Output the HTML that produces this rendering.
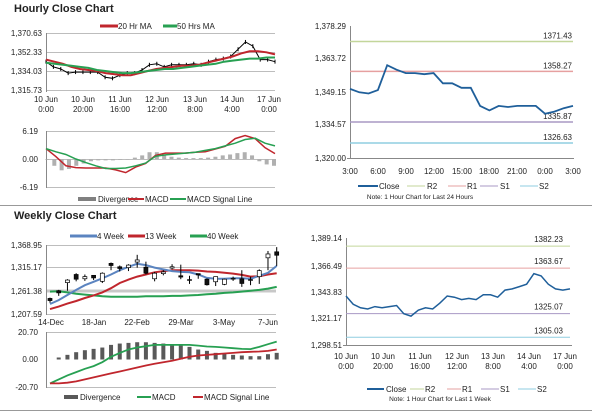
<!DOCTYPE html>
<html><head><meta charset="utf-8"><style>
html,body{margin:0;padding:0;background:#fff;}
svg{display:block;font-family:"Liberation Sans",sans-serif;}
.t{font-size:8px;fill:#222;}
.ttl{font-size:11px;font-weight:bold;fill:#222;}
.g{stroke:#bdbdbd;stroke-width:1;}
.ax{stroke:#888;stroke-width:1;}
</style></head><body>
<svg id="root" width="600" height="413" viewBox="0 0 600 413" xmlns="http://www.w3.org/2000/svg">
<text x="14" y="12" class="ttl">Hourly Close Chart</text>
<text x="14" y="219" class="ttl">Weekly Close Chart</text>
<line x1="0" y1="205.5" x2="592" y2="205.5" stroke="#999"/>
<line x1="0" y1="410.5" x2="592" y2="410.5" stroke="#999"/>

<!-- hourly price panel -->
<g>
<g>
<line x1="100" y1="26" x2="118" y2="26" stroke="#c0262d" stroke-width="3"/><text x="118" y="29" class="t">20 Hr MA</text>
<line x1="163" y1="26" x2="177" y2="26" stroke="#27a052" stroke-width="3"/><text x="177" y="29" class="t">50 Hrs MA</text>
</g>
<line x1="46" y1="33.5" x2="275" y2="33.5" class="g"/><line x1="46" y1="52.5" x2="275" y2="52.5" class="g"/>
<line x1="46" y1="71.5" x2="275" y2="71.5" class="g"/><line x1="46" y1="90.5" x2="275" y2="90.5" class="g"/>
<line x1="46.5" y1="33" x2="46.5" y2="92" class="ax"/>
<g class="t" text-anchor="end">
<text x="42" y="36">1,370.63</text><text x="42" y="55">1,352.33</text><text x="42" y="74">1,334.03</text><text x="42" y="93">1,315.73</text></g>
<g class="t" text-anchor="middle">
<text x="46" y="102">10 Jun</text><text x="46" y="112">0:00</text>
<text x="83" y="102">10 Jun</text><text x="83" y="112">20:00</text>
<text x="120" y="102">11 Jun</text><text x="120" y="112">16:00</text>
<text x="157" y="102">12 Jun</text><text x="157" y="112">12:00</text>
<text x="195" y="102">13 Jun</text><text x="195" y="112">8:00</text>
<text x="232" y="102">14 Jun</text><text x="232" y="112">4:00</text>
<text x="269" y="102">17 Jun</text><text x="269" y="112">0:00</text></g>
</g>
<!-- hourly macd -->
<g>
<line x1="46" y1="131.5" x2="275" y2="131.5" class="g"/><line x1="46" y1="159.5" x2="275" y2="159.5" class="g"/><line x1="46" y1="187.5" x2="275" y2="187.5" class="g"/>
<line x1="46.5" y1="131" x2="46.5" y2="188" class="ax"/>
<g class="t" text-anchor="end"><text x="38" y="134">6.19</text><text x="38" y="162">0.00</text><text x="38" y="190">-6.19</text></g>
<g>
<rect x="78" y="197" width="18" height="4" fill="#808080"/><text x="98" y="202" class="t">Divergence</text>
<line x1="128" y1="199" x2="144" y2="199" stroke="#c0262d" stroke-width="2"/><text x="145" y="202" class="t">MACD</text>
<line x1="170" y1="199" x2="186" y2="199" stroke="#27a052" stroke-width="2"/><text x="187" y="202" class="t">MACD Signal Line</text>
</g></g>

<!-- right top -->
<g>
<line x1="350.5" y1="26" x2="350.5" y2="158" class="ax"/><line x1="347" y1="158.5" x2="574" y2="158.5" class="ax"/>
<g class="t" text-anchor="end"><text x="346" y="29">1,378.29</text><text x="346" y="61">1,363.72</text><text x="346" y="95">1,349.15</text><text x="346" y="127">1,334.57</text><text x="346" y="161">1,320.00</text></g>
<g class="t" text-anchor="middle"><text x="350" y="174">3:00</text><text x="378" y="174">6:00</text><text x="406" y="174">9:00</text><text x="434" y="174">12:00</text><text x="462" y="174">15:00</text><text x="489" y="174">18:00</text><text x="517" y="174">21:00</text><text x="545" y="174">0:00</text><text x="573" y="174">3:00</text></g>
<g>
<line x1="358" y1="186" x2="378" y2="186" stroke="#1f5f9a" stroke-width="2"/><text x="379" y="189" class="t">Close</text>
<line x1="407" y1="186" x2="425" y2="186" stroke="#c3d69b"/><text x="427" y="189" class="t">R2</text>
<line x1="448" y1="186" x2="466" y2="186" stroke="#e6a0a0"/><text x="467" y="189" class="t">R1</text>
<line x1="480" y1="186" x2="498" y2="186" stroke="#a898c4"/><text x="500" y="189" class="t">S1</text>
<line x1="520" y1="186" x2="538" y2="186" stroke="#8fcde0"/><text x="539" y="189" class="t">S2</text>
</g>
<text x="420" y="199" class="t" font-size="6.5" style="font-size:6.5px" text-anchor="middle">Note: 1 Hour Chart for Last 24 Hours</text>
</g>

<!-- right bottom -->
<g>
<line x1="346.5" y1="238" x2="346.5" y2="345" class="ax"/><line x1="343" y1="345.5" x2="572" y2="345.5" class="ax"/>
<g class="t" text-anchor="end"><text x="342" y="241">1,389.14</text><text x="342" y="269">1,366.49</text><text x="342" y="295">1,343.83</text><text x="342" y="321">1,321.17</text><text x="342" y="348">1,298.51</text></g>
<g class="t" text-anchor="middle">
<text x="346" y="359">10 Jun</text><text x="346" y="369">0:00</text>
<text x="383" y="359">10 Jun</text><text x="383" y="369">20:00</text>
<text x="420" y="359">11 Jun</text><text x="420" y="369">16:00</text>
<text x="457" y="359">12 Jun</text><text x="457" y="369">12:00</text>
<text x="493" y="359">13 Jun</text><text x="493" y="369">8:00</text>
<text x="529" y="359">14 Jun</text><text x="529" y="369">4:00</text>
<text x="565" y="359">17 Jun</text><text x="565" y="369">0:00</text></g>
<g>
<line x1="367" y1="389" x2="384" y2="389" stroke="#1f5f9a" stroke-width="2"/><text x="386" y="392" class="t">Close</text>
<line x1="410" y1="389" x2="424" y2="389" stroke="#c3d69b"/><text x="425" y="392" class="t">R2</text>
<line x1="447" y1="389" x2="461" y2="389" stroke="#e6a0a0"/><text x="462" y="392" class="t">R1</text>
<line x1="481" y1="389" x2="499" y2="389" stroke="#a898c4"/><text x="500" y="392" class="t">S1</text>
<line x1="518" y1="389" x2="536" y2="389" stroke="#8fcde0"/><text x="537" y="392" class="t">S2</text>
</g>
<text x="440" y="401" style="font-size:6.5px" class="t" text-anchor="middle">Note: 1 Hour Chart for Last 1 Week</text>
</g>

<!-- weekly price -->
<g>
<g>
<line x1="70" y1="236" x2="97" y2="236" stroke="#5b84c0" stroke-width="3"/><text x="97" y="239" class="t">4 Week</text>
<line x1="128" y1="236" x2="145" y2="236" stroke="#c0262d" stroke-width="3"/><text x="145" y="239" class="t">13 Week</text>
<line x1="190" y1="236" x2="207" y2="236" stroke="#27a052" stroke-width="3"/><text x="207" y="239" class="t">40 Week</text>
</g>
<line x1="46" y1="245.5" x2="276" y2="245.5" class="g"/><line x1="46" y1="267.5" x2="276" y2="267.5" class="g"/>
<line x1="46" y1="291" x2="276" y2="291" stroke="#c8c8c8" stroke-width="3"/><line x1="46" y1="314.5" x2="276" y2="314.5" class="g"/>
<line x1="46.5" y1="245" x2="46.5" y2="315" class="ax"/>
<g class="t" text-anchor="end"><text x="42" y="248">1,368.95</text><text x="42" y="270">1,315.17</text><text x="42" y="294">1,261.38</text><text x="42" y="317">1,207.59</text></g>
<g class="t" text-anchor="middle"><text x="51" y="325">14-Dec</text><text x="94" y="325">18-Jan</text><text x="137" y="325">22-Feb</text><text x="181" y="325">29-Mar</text><text x="224" y="325">3-May</text><text x="268" y="325">7-Jun</text></g>
</g>
<!-- weekly macd -->
<g>
<line x1="46" y1="332.5" x2="276" y2="332.5" class="g"/><line x1="46" y1="387.5" x2="276" y2="387.5" class="g"/>
<line x1="46.5" y1="332" x2="46.5" y2="388" class="ax"/>
<g class="t" text-anchor="end"><text x="38" y="335">20.70</text><text x="38" y="362">0.00</text><text x="38" y="390">-20.70</text></g>
<g>
<rect x="64" y="395" width="14" height="4" fill="#595959"/><text x="80" y="400" class="t">Divergence</text>
<line x1="137" y1="397" x2="151" y2="397" stroke="#27a052" stroke-width="2"/><text x="152" y="400" class="t">MACD</text>
<line x1="193" y1="397" x2="203" y2="397" stroke="#c0262d" stroke-width="2"/><text x="204" y="400" class="t">MACD Signal Line</text>
</g></g>
</svg>
<script>
// ---- hourly (1 week) top-left ----
const hClose=[1343,1338,1336,1332,1333,1333,1333,1333,1328,1327,1330,1332,1332,1335,1340,1341,1338,1340,1340,1340,1341,1340,1343,1345,1346,1348,1355,1362,1358,1345,1345,1343];
const hMa20=[1345,1343,1341,1338,1336,1335,1334,1332,1331,1330,1330,1332,1334,1336,1337,1338,1339,1339,1340,1342,1344,1346,1348,1351,1353,1353,1352,1350];
const hMa50=[1342,1341,1340,1339,1338,1337,1335,1334,1333,1332,1332,1333,1334,1335,1336,1336,1337,1338,1339,1340,1341,1343,1344,1345,1346,1346,1347,1347];
const hMacd=[2.3,0.5,-1.5,-1.9,-2.0,-2.0,-2.0,-2.4,-3.0,-1.8,-1.0,0.8,1.3,1.3,1.3,1.5,1.6,2.2,2.8,4.5,5.2,4.5,2.5,1.2];
const hSignal=[2.3,1.6,1.0,0.0,-0.8,-1.5,-2.1,-2.1,-2.0,-1.5,-0.9,0.6,0.9,1.1,1.3,1.5,1.9,2.3,2.9,3.5,4.3,4.6,3.5,2.9];
const hDiv=[0,-1.5,-2.5,-2.2,-1.5,-1,-0.5,-0.3,-0.3,-0.3,-0.2,0,0.3,0.8,1.5,1.5,1,0.5,0.3,0.2,0.2,0.2,0.3,0.5,0.8,1,1.3,1.5,0.8,-0.5,-1.2,-1.5];
// ---- last 24 hours ----
const dClose=[1350.5,1349,1348.5,1350,1361,1359,1357.5,1357.5,1357,1357.5,1353,1353,1351,1351,1343,1341,1343,1342.5,1343,1343,1343,1339.5,1340.5,1342,1343];
const dLevelNames=['R2','R1','S1','S2'];
const dLevels=[1371.43,1358.27,1335.87,1326.63];
// ---- hourly last week (bottom right) ----
const wkClose=[1340,1333,1330,1329,1331,1330,1331,1332,1325,1323,1328,1330,1329,1334,1340,1339,1337,1338,1337,1341,1341,1339,1345,1346,1348,1350,1359,1357,1350,1346,1345,1346];
const wkLevels=[1382.23,1363.67,1325.07,1305.03];
// ---- weekly candles ----
const wOpen =[1244,1262,1281,1300,1290,1298,1284,1326,1318,1316,1329,1317,1290,1302,1315,1297,1288,1302,1289,1283,1277,1290,1290,1287,1295,1339,1353];
const wClose=[1239,1257,1287,1289,1295,1292,1303,1321,1314,1322,1334,1303,1303,1306,1318,1294,1288,1299,1276,1295,1289,1291,1279,1288,1309,1348,1345];
const wHigh =[1246,1264,1289,1303,1300,1298,1305,1328,1321,1324,1346,1330,1306,1310,1324,1323,1297,1302,1291,1295,1290,1295,1310,1295,1312,1355,1364];
const wLow  =[1234,1250,1262,1284,1285,1287,1280,1310,1307,1308,1316,1300,1284,1298,1312,1289,1278,1290,1274,1273,1275,1285,1271,1275,1278,1310,1320];
const wMa4=[1231,1240,1252,1264,1275,1283,1291,1300,1310,1318,1325,1322,1316,1312,1308,1306,1305,1300,1292,1290,1290,1291,1291,1290,1297,1304,1320];
const wMa13=[1219,1225,1232,1238,1245,1251,1258,1268,1280,1288,1295,1300,1305,1308,1310,1310,1310,1309,1307,1306,1304,1302,1299,1295,1296,1300,1303];
const wMa40=[1260,1261,1258,1255,1253,1251,1249,1248,1248,1248,1248,1249,1249,1249,1250,1250,1251,1252,1254,1255,1257,1258,1260,1262,1264,1267,1271];
const wMacd=[-18,-15,-12,-9.5,-7,-5,-2,2,5,7.5,9,10,11,11,11,11,11,10.5,9.8,9.5,9,8.5,8,7.8,9.5,11.5,13.5];
const wSignal=[-18,-18,-17.5,-16.5,-15,-13.5,-12,-10.5,-9,-7.5,-6,-4.5,-3.2,-2,-1,0.5,2,3,3.5,4,4.5,5,5.5,5.8,6,6.5,7.5];
const wDiv=[0,1.5,3.5,5.5,7,8,9,11,12,12.5,13,13,12.5,12,11.5,11,9.5,7.5,6.5,5,4.5,3.5,3,2.5,2.5,4,5];

const NS='http://www.w3.org/2000/svg';
const root=document.getElementById('root');
function mk(tag,attrs){const e=document.createElementNS(NS,tag);for(const k in attrs)e.setAttribute(k,attrs[k]);root.appendChild(e);return e;}
function xs(x0,x1,n){return i=>x0+i*(x1-x0)/(n-1);}
function ys(y0,v0,y1,v1){return v=>y0+(v-v0)*(y1-y0)/(v1-v0);}
function pts(arr,X,Y){return arr.map((v,i)=>X(i).toFixed(1)+','+Y(v).toFixed(1)).join(' ');}

// top-left scales
const hpY=ys(33,1370.63,90,1315.73);
const hmY=ys(131,6.19,187,-6.19);
const hxC=xs(46,275,hClose.length);
for(let i=0;i<hClose.length;i++){
  const b=mk('line',{x1:hxC(i),x2:hxC(i),y1:hpY(hClose[i])-2,y2:hpY(hClose[i])+2,stroke:'#000','stroke-width':1});
  
  
}
const hcl=mk('polyline',{points:pts(hClose,hxC,hpY),fill:'none',stroke:'#000','stroke-width':1});


const h20=mk('polyline',{points:pts(hMa20,xs(46,275,hMa20.length),hpY),fill:'none',stroke:'#c0262d','stroke-width':2});


const h50=mk('polyline',{points:pts(hMa50,xs(46,275,hMa50.length),hpY),fill:'none',stroke:'#27a052','stroke-width':2});


const hxD=xs(47,274,hDiv.length);
for(let i=0;i<hDiv.length;i++){
  const y0=hmY(0),y1=hmY(hDiv[i]);
  const r=mk('rect',{x:hxD(i)-2,y:Math.min(y0,y1),width:4,height:Math.max(0.5,Math.abs(y1-y0)),fill:'#b0b0b0'});
  
  
}
const hm=mk('polyline',{points:pts(hMacd,xs(46,275,hMacd.length),hmY),fill:'none',stroke:'#c0262d','stroke-width':1.5});


const hs=mk('polyline',{points:pts(hSignal,xs(46,275,hSignal.length),hmY),fill:'none',stroke:'#27a052','stroke-width':1.5});



// levels helper colours
const lvlColors=['#c3d69b','#e6a0a0','#a898c4','#8fcde0'];
// top right
const dX=xs(350,573,dClose.length), dY=ys(26,1378.29,158,1320);
for(let i=0;i<dLevels.length;i++){
  const l=mk('line',{x1:350,x2:573,y1:dY(dLevels[i]),y2:dY(dLevels[i]),stroke:lvlColors[i],'stroke-width':1.5});
  
  
  const t=mk('text',{x:572,y:dY(dLevels[i])-3,'text-anchor':'end',class:'t'});
  t.textContent=dLevels[i].toFixed(2);
  
  
}
const dl=mk('polyline',{points:pts(dClose,dX,dY),fill:'none',stroke:'#1f5f9a','stroke-width':1.8});



// bottom right
const kX=xs(346,570,wkClose.length), kY=ys(238,1389.14,345,1298.51);
for(let i=0;i<wkLevels.length;i++){
  const l=mk('line',{x1:346,x2:570,y1:kY(wkLevels[i]),y2:kY(wkLevels[i]),stroke:lvlColors[i],'stroke-width':1});
  
  
  const t=mk('text',{x:563,y:kY(wkLevels[i])-4,'text-anchor':'end',class:'t'});
  t.textContent=wkLevels[i].toFixed(2);
  
  
}
const kl=mk('polyline',{points:pts(wkClose,kX,kY),fill:'none',stroke:'#1f5f9a','stroke-width':1.5});



// weekly
const wX=xs(50,276.7,wOpen.length), wY=ys(245,1368.95,314,1207.59), wmY=ys(332,20.7,387,-20.7);
const m40=mk('polyline',{points:pts(wMa40,wX,wY),fill:'none',stroke:'#27a052','stroke-width':2});


const m13=mk('polyline',{points:pts(wMa13,wX,wY),fill:'none',stroke:'#c0262d','stroke-width':2});


const m4=mk('polyline',{points:pts(wMa4,wX,wY),fill:'none',stroke:'#5b84c0','stroke-width':2});


for(let i=0;i<wOpen.length;i++){
  const x=wX(i);
  const w=mk('line',{x1:x,x2:x,y1:wY(wHigh[i]),y2:wY(wLow[i]),stroke:'#000','stroke-width':1});
  
  
  const top=wY(Math.max(wOpen[i],wClose[i])), bot=wY(Math.min(wOpen[i],wClose[i]));
  const up=wClose[i]>=wOpen[i];
  const r=mk('rect',{x:x-2,y:top,width:4,height:Math.max(0.8,bot-top),fill:up?'#fff':'#111',stroke:'#000','stroke-width':0.7});
  
  
}
for(let i=0;i<wDiv.length;i++){
  const y0=wmY(0),y1=wmY(wDiv[i]);
  const r=mk('rect',{x:wX(i)-2,y:Math.min(y0,y1),width:4,height:Math.abs(y1-y0),fill:'#595959'});
  
  
}
const wm=mk('polyline',{points:pts(wMacd,wX,wmY),fill:'none',stroke:'#27a052','stroke-width':1.8});


const ws=mk('polyline',{points:pts(wSignal,wX,wmY),fill:'none',stroke:'#c0262d','stroke-width':1.8});


</script>
</body></html>
